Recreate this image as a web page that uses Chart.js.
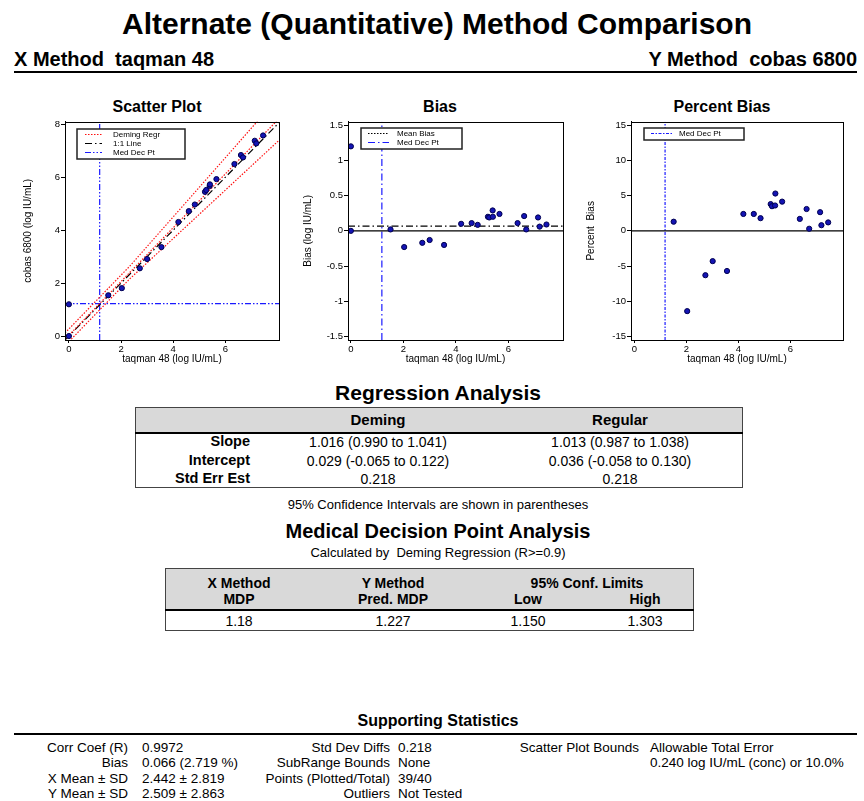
<!DOCTYPE html>
<html>
<head>
<meta charset="utf-8">
<script src="https://cdn.jsdelivr.net/npm/chart.js@4.4.0/dist/chart.umd.min.js"></script>
<style>
body { margin:0; background:#fff; width:864px; height:801px; position:relative; overflow:hidden;
       font-family:"Liberation Sans", Arial, sans-serif; color:#000; }
.t { position:absolute; white-space:nowrap; line-height:1; }
.b { font-weight:bold; }
.c { transform:translateX(-50%); }
.r { transform:translateX(-100%); }
.rule { position:absolute; background:#000; }
.box { position:absolute; box-sizing:border-box; border:1px solid #444; }
.hdr { position:absolute; background:#d9d9d9; }
canvas { position:absolute; }
</style>
</head>
<body>

<div class="t b c" style="left:437px;top:9px;font-size:30px">Alternate (Quantitative) Method Comparison</div>
<div class="t b" style="left:14px;top:49px;font-size:20px">X Method&nbsp; taqman 48</div>
<div class="t b r" style="left:857px;top:49px;font-size:20px">Y Method&nbsp; cobas 6800</div>
<div class="rule" style="left:14px;top:71px;width:843px;height:2px"></div>

<div class="t b c" style="left:157px;top:99px;font-size:16px">Scatter Plot</div>
<div class="t b c" style="left:440px;top:99px;font-size:16px">Bias</div>
<div class="t b c" style="left:722px;top:99px;font-size:16px">Percent Bias</div>

<canvas id="scatter" width="290" height="260" style="left:0px;top:115px"></canvas>
<canvas id="bias" width="285" height="260" style="left:290px;top:115px"></canvas>
<canvas id="pctbias" width="289" height="260" style="left:575px;top:115px"></canvas>

<!-- Regression Analysis -->
<div class="t b c" style="left:438px;top:382px;font-size:21px">Regression Analysis</div>
<div class="hdr" style="left:135px;top:407px;width:608px;height:26px"></div>
<div class="box" style="left:135px;top:407px;width:608px;height:81px"></div>
<div class="rule" style="left:135px;top:432px;width:608px;height:2px"></div>
<div class="t b c" style="left:378px;top:412px;font-size:15px">Deming</div>
<div class="t b c" style="left:620px;top:412px;font-size:15px">Regular</div>
<div class="t b r" style="left:250px;top:434px;font-size:14.5px">Slope</div>
<div class="t b r" style="left:250px;top:453px;font-size:14.5px">Intercept</div>
<div class="t b r" style="left:250px;top:471px;font-size:14.5px">Std Err Est</div>
<div class="t c" style="left:378px;top:435px;font-size:14px">1.016 (0.990 to 1.041)</div>
<div class="t c" style="left:378px;top:454px;font-size:14px">0.029 (-0.065 to 0.122)</div>
<div class="t c" style="left:378px;top:471.5px;font-size:14px">0.218</div>
<div class="t c" style="left:620px;top:435px;font-size:14px">1.013 (0.987 to 1.038)</div>
<div class="t c" style="left:620px;top:454px;font-size:14px">0.036 (-0.058 to 0.130)</div>
<div class="t c" style="left:620px;top:471.5px;font-size:14px">0.218</div>
<div class="t c" style="left:438px;top:498px;font-size:13px">95% Confidence Intervals are shown in parentheses</div>

<!-- Medical Decision Point Analysis -->
<div class="t b c" style="left:438px;top:521px;font-size:20px">Medical Decision Point Analysis</div>
<div class="t c" style="left:438px;top:546px;font-size:13px">Calculated by&nbsp; Deming Regression (R&gt;=0.9)</div>
<div class="hdr" style="left:165px;top:568px;width:529px;height:42px"></div>
<div class="box" style="left:165px;top:568px;width:529px;height:63px"></div>
<div class="rule" style="left:165px;top:609px;width:529px;height:2px"></div>
<div class="t b c" style="left:239px;top:576px;font-size:14px">X Method</div>
<div class="t b c" style="left:239px;top:591.5px;font-size:14px">MDP</div>
<div class="t b c" style="left:393px;top:576px;font-size:14px">Y Method</div>
<div class="t b c" style="left:393px;top:591.5px;font-size:14px">Pred. MDP</div>
<div class="t b c" style="left:587px;top:576px;font-size:14px">95% Conf. Limits</div>
<div class="t b c" style="left:528px;top:591.5px;font-size:14px">Low</div>
<div class="t b c" style="left:645px;top:591.5px;font-size:14px">High</div>
<div class="t c" style="left:239px;top:614px;font-size:14px">1.18</div>
<div class="t c" style="left:393px;top:614px;font-size:14px">1.227</div>
<div class="t c" style="left:528px;top:614px;font-size:14px">1.150</div>
<div class="t c" style="left:645px;top:614px;font-size:14px">1.303</div>

<!-- Supporting Statistics -->
<div class="t b c" style="left:438px;top:713px;font-size:16px">Supporting Statistics</div>
<div class="rule" style="left:14px;top:733px;width:843px;height:2px"></div>
<div class="t r" style="left:128px;top:740.5px;font-size:13.5px">Corr Coef (R)</div>
<div class="t r" style="left:128px;top:756px;font-size:13.5px">Bias</div>
<div class="t r" style="left:128px;top:771.5px;font-size:13.5px">X Mean ± SD</div>
<div class="t r" style="left:128px;top:787px;font-size:13.5px">Y Mean ± SD</div>
<div class="t" style="left:142px;top:740.5px;font-size:13.5px">0.9972</div>
<div class="t" style="left:142px;top:756px;font-size:13.5px">0.066 (2.719 %)</div>
<div class="t" style="left:142px;top:771.5px;font-size:13.5px">2.442 ± 2.819</div>
<div class="t" style="left:142px;top:787px;font-size:13.5px">2.509 ± 2.863</div>
<div class="t r" style="left:390px;top:740.5px;font-size:13.5px">Std Dev Diffs</div>
<div class="t r" style="left:390px;top:756px;font-size:13.5px">SubRange Bounds</div>
<div class="t r" style="left:390px;top:771.5px;font-size:13.5px">Points (Plotted/Total)</div>
<div class="t r" style="left:390px;top:787px;font-size:13.5px">Outliers</div>
<div class="t" style="left:398px;top:740.5px;font-size:13.5px">0.218</div>
<div class="t" style="left:398px;top:756px;font-size:13.5px">None</div>
<div class="t" style="left:398px;top:771.5px;font-size:13.5px">39/40</div>
<div class="t" style="left:398px;top:787px;font-size:13.5px">Not Tested</div>
<div class="t r" style="left:639px;top:740.5px;font-size:13.5px">Scatter Plot Bounds</div>
<div class="t" style="left:650px;top:740.5px;font-size:13.5px">Allowable Total Error</div>
<div class="t" style="left:650px;top:756px;font-size:13.5px">0.240 log IU/mL (conc) or 10.0%</div>

<script>
// taqman 48 (x) and cobas 6800 (y), log IU/mL
const xVals = [0, 0, 1.51, 2.03, 2.72, 3.00, 3.55, 4.20, 4.60, 4.83, 5.22, 5.27, 5.40, 5.41, 5.66, 6.35, 6.60, 6.68, 7.13, 7.19, 7.45];
const yVals = [0, 1.20, 1.54, 1.81, 2.56, 2.91, 3.36, 4.31, 4.72, 4.97, 5.45, 5.52, 5.67, 5.73, 5.93, 6.50, 6.84, 6.75, 7.38, 7.28, 7.58];
// bias (y - x)
const biasVals = [0, 1.20, 0.02, -0.23, -0.17, -0.13, -0.20, 0.10, 0.11, 0.085, 0.20, 0.19, 0.29, 0.20, 0.24, 0.11, 0.21, 0.02, 0.19, 0.06, 0.09];
// percent bias (x = 0 points are not plotted)
const pctX = [1.51, 2.03, 2.73, 3.01, 3.56, 4.19, 4.59, 4.85, 5.24, 5.29, 5.41, 5.42, 5.68, 6.36, 6.62, 6.72, 7.14, 7.19, 7.45];
const pctVals = [1.3, -11.4, -6.3, -4.3, -5.7, 2.4, 2.4, 1.8, 3.8, 3.5, 3.6, 5.3, 4.15, 1.7, 3.1, 0.3, 2.65, 0.8, 1.2];

const xTicks = [0, 2, 4, 6];
const scatterYTicks = [0, 2, 4, 6, 8];
const biasTicks = [-1.5, -1, -0.5, 0, 0.5, 1, 1.5];
const pctTicks = [-15, -10, -5, 0, 5, 10, 15];

// statistics
const demSlope = 1.016;
const demInt = 0.029;
const mdpX = 1.18;
const mdpY = 1.227;
const meanBias = 0.066;
const ateAbs = 0.240;
const atePct = 0.10;

const FONT = '"Liberation Sans", Arial, sans-serif';
const ptFill = '#1414b4';
const ptEdge = '#000050';
const RED = '#ff1010';
const BLUE = '#1a1aff';
const RED_DOT = [1.5, 1.5];
const DASH_DOT = [7, 3, 1.5, 3];
const DASH_DOT_DOT = [6, 2, 1.5, 2, 1.5, 2];

const framePlugin = {
  id: 'frame',
  afterDraw(chart, args, opts) {
    const ctx = chart.ctx, a = chart.chartArea;
    ctx.save();
    ctx.strokeStyle = '#000';
    ctx.lineWidth = 1;
    ctx.strokeRect(Math.round(a.left) + 0.5, Math.round(a.top) + 0.5, Math.round(a.right - a.left), Math.round(a.bottom - a.top));
    if (opts.items) {
      const x = Math.round(a.left + opts.dx), y = Math.round(a.top + opts.dy);
      const h = opts.items.length * 9 + 3;
      ctx.fillStyle = '#fff';
      ctx.fillRect(x, y, opts.w, h);
      ctx.lineWidth = 1.5;
      ctx.strokeStyle = '#222';
      ctx.strokeRect(x, y, opts.w, h);
      opts.items.forEach((it, i) => {
        const cy = Math.round(y + 5 + i * 9) + 0.5;
        ctx.beginPath();
        ctx.setLineDash(it.dash);
        ctx.strokeStyle = it.color;
        ctx.lineWidth = 1.2;
        ctx.moveTo(x + opts.l0, cy);
        ctx.lineTo(x + opts.l1, cy);
        ctx.stroke();
        ctx.setLineDash([]);
        ctx.fillStyle = '#000';
        ctx.font = '8px ' + FONT;
        ctx.textBaseline = 'middle';
        ctx.fillText(it.label, x + opts.tx, cy);
      });
    }
    ctx.restore();
  }
};

function xAxis(min, max, title) {
  return {
    type: 'linear', min: min, max: max,
    afterBuildTicks: s => { s.ticks = xTicks.map(v => ({value: v})); },
    afterFit: s => { s.height = 29; },
    grid: {drawOnChartArea: false, drawTicks: true, tickLength: 3, color: '#000'},
    border: {display: true, color: '#000'},
    ticks: {color: '#000', font: {size: 9.5, family: FONT}, padding: 1, maxRotation: 0, callback: v => String(v)},
    title: {display: true, text: title, color: '#000', font: {size: 10, family: FONT}, padding: {top: 0, bottom: 4}}
  };
}

function yAxis(min, max, ticks, title, width) {
  return {
    type: 'linear', min: min, max: max,
    afterBuildTicks: s => { s.ticks = ticks.map(v => ({value: v})); },
    afterFit: s => { s.width = width; },
    grid: {drawOnChartArea: false, drawTicks: true, tickLength: 4, color: '#000'},
    border: {display: true, color: '#000'},
    ticks: {color: '#000', font: {size: 9.5, family: FONT}, padding: 1, callback: v => String(v)},
    title: {display: true, text: title, color: '#000', font: {size: 10, family: FONT}, padding: {top: 4, bottom: 0}}
  };
}

function points(xs, ys) {
  return {
    data: xs.map((x, i) => ({x: x, y: ys[i]})),
    pointRadius: 2.6, pointBackgroundColor: ptFill, pointBorderColor: ptEdge, pointBorderWidth: 1,
    showLine: false
  };
}

function line(pts, color, dash) {
  return {data: pts, showLine: true, pointRadius: 0, borderColor: color, borderWidth: 1.2, borderDash: dash, clip: 0};
}

// Scatter plot
var sx = [-0.15, 8.06], sy = [-0.15, 8.1];
var dem = x => demInt + demSlope * x;
var xBreak = (ateAbs / atePct - demInt) / demSlope;
var bx = [sx[0], xBreak, sx[1]];
var upper = bx.map(x => ({x: x, y: dem(x) + Math.max(ateAbs, atePct * dem(x))}));
var lower = bx.map(x => ({x: x, y: dem(x) - Math.max(ateAbs, atePct * dem(x))}));

new Chart("scatter", {
  type: 'scatter',
  data: {
    datasets: [
      points(xVals, yVals),
      line([{x: sx[0], y: dem(sx[0])}, {x: sx[1], y: dem(sx[1])}], RED, RED_DOT),
      line([{x: sx[0], y: sx[0]}, {x: sx[1], y: sx[1]}], '#000', DASH_DOT),
      line(upper, RED, RED_DOT),
      line(lower, RED, RED_DOT),
      line([{x: mdpX, y: sy[0]}, {x: mdpX, y: sy[1]}], BLUE, DASH_DOT_DOT),
      line([{x: sx[0], y: mdpY}, {x: sx[1], y: mdpY}], BLUE, DASH_DOT_DOT)
    ]
  },
  options: {
    responsive: false, animation: false,
    layout: {padding: {left: 18, top: 6, right: 11, bottom: 6}},
    scales: {x: xAxis(sx[0], sx[1], 'taqman 48 (log IU/mL)'), y: yAxis(sy[0], sy[1], scatterYTicks, 'cobas 6800 (log IU/mL)', 47)},
    plugins: {
      legend: {display: false}, tooltip: {enabled: false},
      frame: {dx: 12, dy: 7, w: 108, l0: 8, l1: 25, tx: 36, items: [
        {label: 'Deming Regr', color: RED, dash: RED_DOT},
        {label: '1:1 Line', color: '#000', dash: DASH_DOT},
        {label: 'Med Dec Pt', color: BLUE, dash: DASH_DOT_DOT}
      ]}
    }
  },
  plugins: [framePlugin]
});

// Bias
var bxr = [-0.11, 8.08], byr = [-1.55, 1.55];
new Chart("bias", {
  type: 'scatter',
  data: {
    datasets: [
      points(xVals, biasVals),
      line([{x: bxr[0], y: 0}, {x: bxr[1], y: 0}], '#000', []),
      line([{x: bxr[0], y: meanBias}, {x: bxr[1], y: meanBias}], '#000', DASH_DOT),
      line([{x: mdpX, y: byr[0]}, {x: mdpX, y: byr[1]}], BLUE, DASH_DOT)
    ]
  },
  options: {
    responsive: false, animation: false,
    layout: {padding: {left: 8, top: 6, right: 12, bottom: 6}},
    scales: {x: xAxis(bxr[0], bxr[1], 'taqman 48 (log IU/mL)'), y: yAxis(byr[0], byr[1], biasTicks, 'Bias (log IU/mL)', 50)},
    plugins: {
      legend: {display: false}, tooltip: {enabled: false},
      frame: {dx: 13, dy: 6, w: 101, l0: 7, l1: 28, tx: 36, items: [
        {label: 'Mean Bias', color: '#000', dash: [1.5, 1.5]},
        {label: 'Med Dec Pt', color: BLUE, dash: DASH_DOT}
      ]}
    }
  },
  plugins: [framePlugin]
});

// Percent bias
var pxr = [-0.13, 8.02], pyr = [-15.5, 15.5];
new Chart("pctbias", {
  type: 'scatter',
  data: {
    datasets: [
      points(pctX, pctVals),
      line([{x: pxr[0], y: 0}, {x: pxr[1], y: 0}], '#000', []),
      line([{x: mdpX, y: pyr[0]}, {x: mdpX, y: pyr[1]}], BLUE, [3, 1.5, 1.5, 1.5])
    ]
  },
  options: {
    responsive: false, animation: false,
    layout: {padding: {left: 6, top: 6, right: 21, bottom: 6}},
    scales: {x: xAxis(pxr[0], pxr[1], 'taqman 48 (log IU/mL)'), y: yAxis(pyr[0], pyr[1], pctTicks, 'Percent  Bias', 50)},
    plugins: {
      legend: {display: false}, tooltip: {enabled: false},
      frame: {dx: 13, dy: 6, w: 100, l0: 7, l1: 28, tx: 35, items: [
        {label: 'Med Dec Pt', color: BLUE, dash: [3, 1.5, 1.5, 1.5]}
      ]}
    }
  },
  plugins: [framePlugin]
});
</script>
</body>
</html>
